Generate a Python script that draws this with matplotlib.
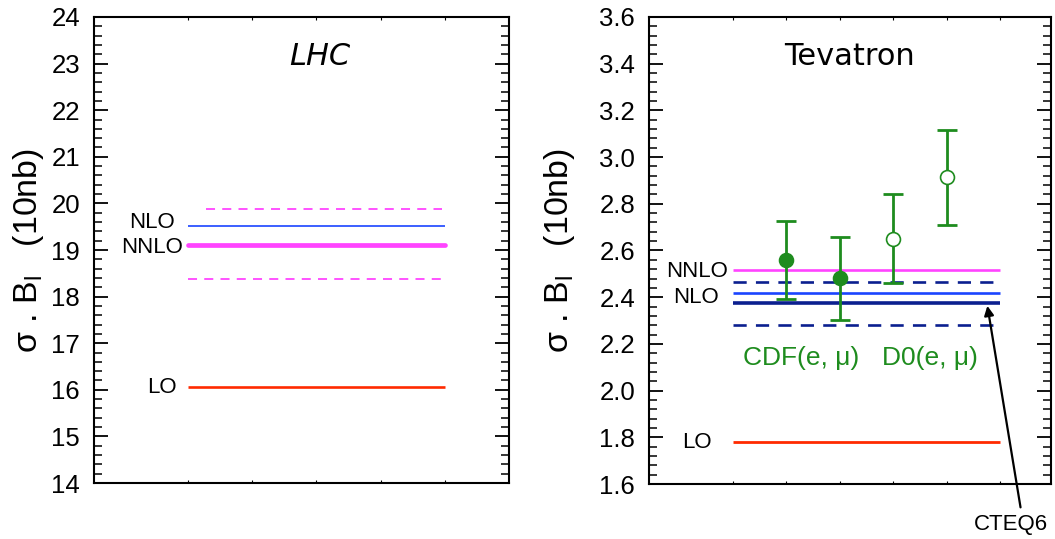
import matplotlib
matplotlib.use("Agg")
import matplotlib.pyplot as plt
from matplotlib.ticker import MultipleLocator, FixedLocator

plt.rcParams['font.family'] = ['Liberation Sans', 'DejaVu Sans']
plt.rcParams['mathtext.fontset'] = 'custom'
plt.rcParams['mathtext.rm'] = 'Liberation Sans'
plt.rcParams['mathtext.it'] = 'Liberation Sans'

# ---------------- data ----------------
# LHC panel (sigma.B, units of 10 nb)
lhc_orders = ["LO", "NLO", "NNLO"]
lhc_values = [16.07, 19.52, 19.10]
lhc_nnlo_band = [18.37, 19.87]          # lower, upper dashed lines

# Tevatron panel
tev_orders = ["LO", "NLO", "NNLO"]
tev_values = [1.78, 2.42, 2.515]
tev_cteq6 = 2.375
tev_cteq6_band = [2.282, 2.466]

# Measurements: CDF(e, mu) filled, D0(e, mu) open
exp_names = ["CDF(e)", "CDF(mu)", "D0(e)", "D0(mu)"]
exp_x = [2, 3, 4, 5]
exp_y = [2.559, 2.482, 2.649, 2.913]
exp_err_lo = [0.168, 0.179, 0.190, 0.204]
exp_err_hi = [0.169, 0.177, 0.194, 0.203]
exp_filled = [True, True, False, False]

# ---------------- styles ----------------
MAG = '#ff44ff'
BLUE = '#1a44ff'
NAVY = '#0b1f8f'
RED = '#ff2a00'
GREEN = '#1e8c1e'

W, H = 1055, 539
fig = plt.figure(figsize=(W / 100, H / 100), dpi=100)
axL = fig.add_axes([94 / W, 56 / H, 415 / W, 466 / H])
axR = fig.add_axes([649 / W, 55 / H, 402 / W, 467 / H])


def style_axis(ax, ylim, major, minor, xlim, xticks):
    ax.set_ylim(*ylim)
    ax.set_xlim(*xlim)
    ax.yaxis.set_major_locator(MultipleLocator(major))
    ax.yaxis.set_minor_locator(MultipleLocator(minor))
    ax.xaxis.set_major_locator(FixedLocator(xticks))
    ax.xaxis.set_minor_locator(FixedLocator([]))
    ax.set_xticklabels([])
    ax.tick_params(axis='y', which='major', direction='in', length=10, width=1.3,
                   left=True, right=True, labelsize=18.5, pad=10)
    ax.tick_params(axis='y', which='minor', direction='in', length=5.5, width=1.1,
                   left=True, right=True)
    ax.tick_params(axis='x', which='major', direction='in', length=2.5, width=0.8,
                   top=True, bottom=True)
    for s in ax.spines.values():
        s.set_linewidth(1.5)


# ---------------- LHC ----------------
style_axis(axL, (14, 24), 1, 0.2, (-0.46, 6.0), [1, 2, 3, 4, 5])
axL.plot([1, 5], [lhc_values[0]] * 2, color=RED, lw=1.9, solid_capstyle='butt')
axL.plot([1, 5], [lhc_values[1]] * 2, color=BLUE, lw=1.2, solid_capstyle='butt')
axL.plot([1, 5], [lhc_values[2]] * 2, color=MAG, lw=3.4, solid_capstyle='round')
axL.plot([1, 4.95], [lhc_nnlo_band[0]] * 2, color=MAG, lw=1.3, ls=(0, (5, 4)))
axL.plot([1.28, 4.95], [lhc_nnlo_band[1]] * 2, color=MAG, lw=1.3, ls=(0, (5, 4)))
axL.text(0.80, lhc_values[1] + 0.06, "NLO", ha='right', va='center', fontsize=16)
axL.text(0.92, lhc_values[2] - 0.05, "NNLO", ha='right', va='center', fontsize=16)
axL.text(0.83, lhc_values[0] - 0.03, "LO", ha='right', va='center', fontsize=16)
axL.text(0.545, 0.915, "LHC", transform=axL.transAxes, ha='center', va='center',
         fontsize=22, family='DejaVu Sans', style='italic')
axL.set_ylabel(r"σ . B$_{\mathrm{l}}$   (10nb)", fontsize=24.5)
axL.yaxis.set_label_coords(-0.115, 0.5)

# ---------------- Tevatron ----------------
style_axis(axR, (1.6, 3.6), 0.2, 0.04, (-0.57, 6.95), [1, 2, 3, 4, 5, 6])
axR.plot([1, 6], [tev_values[0]] * 2, color=RED, lw=2.0, solid_capstyle='butt')
axR.plot([1, 6], [tev_values[2]] * 2, color=MAG, lw=1.9, solid_capstyle='butt')
axR.plot([1, 6], [tev_values[1]] * 2, color=BLUE, lw=1.9, solid_capstyle='butt')
axR.plot([1, 6], [tev_cteq6] * 2, color=NAVY, lw=2.6, solid_capstyle='butt')
for v in tev_cteq6_band:
    axR.plot([1, 6], [v, v], color=NAVY, lw=1.9, ls=(0, (5, 3.5)))

for x, y, lo, hi, f in zip(exp_x, exp_y, exp_err_lo, exp_err_hi, exp_filled):
    axR.errorbar([x], [y], yerr=[[lo], [hi]], fmt='none', ecolor=GREEN,
                 elinewidth=2.0, capsize=7.5, capthick=2.0, zorder=4)
    axR.plot([x], [y], 'o', ms=10, mec=GREEN, mew=1.2,
             mfc=GREEN if f else 'white', zorder=5)

axR.text(0.90, tev_values[2] - 0.005, "NNLO", ha='right', va='center', fontsize=16)
axR.text(0.74, 2.397, "NLO", ha='right', va='center', fontsize=16)
axR.text(0.60, tev_values[0] - 0.004, "LO", ha='right', va='center', fontsize=16)
axR.text(2.27, 2.14, "CDF(e, μ)", ha='center', va='center', fontsize=19, color=GREEN)
axR.text(4.69, 2.14, "D0(e, μ)", ha='center', va='center', fontsize=19, color=GREEN)
axR.text(0.5, 0.915, "Tevatron", transform=axR.transAxes, ha='center', va='center',
         fontsize=22, family='DejaVu Sans')
axR.set_ylabel(r"σ . B$_{\mathrm{l}}$   (10nb)", fontsize=24.5)
axR.yaxis.set_label_coords(-0.18, 0.5)

axR.annotate("", xy=(5.76, tev_cteq6 - 0.012), xytext=(6.38, 1.50),
             arrowprops=dict(arrowstyle='-|>', color='black', lw=1.6,
                             mutation_scale=14, shrinkA=0, shrinkB=0),
             annotation_clip=False)
axR.text(6.2, 1.425, "CTEQ6", ha='center', va='center', fontsize=16,
         clip_on=False)

fig.savefig("out.png", dpi=100)
